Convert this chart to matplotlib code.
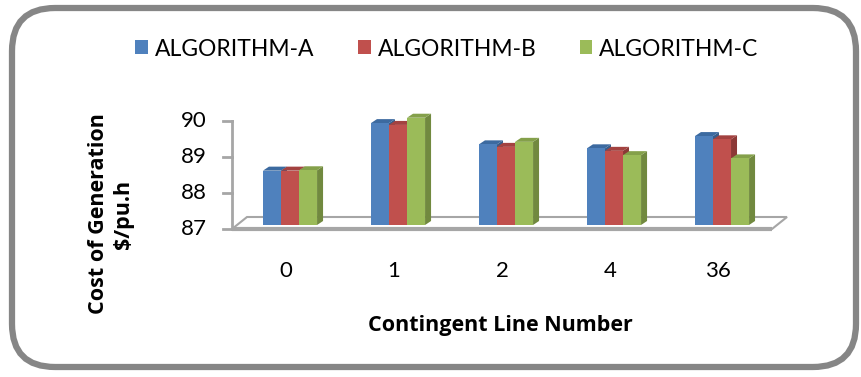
import matplotlib.pyplot as plt
from matplotlib.patches import Polygon, FancyBboxPatch, Patch

plt.rcParams["font.family"] = ["Lato", "DejaVu Sans"]

lines = ["0", "1", "2", "4", "36"]
algo_a = [88.51, 89.83, 89.24, 89.13, 89.47]
algo_b = [88.51, 89.78, 89.17, 89.06, 89.38]
algo_c = [88.52, 89.98, 89.31, 88.94, 88.85]
names = ["ALGORITHM-A", "ALGORITHM-B", "ALGORITHM-C"]

front = ["#4F81BD", "#C0504D", "#9BBB59"]
side = ["#385D8A", "#8C3836", "#71893F"]
top = ["#3C6AA0", "#A34240", "#84A04A"]

fig = plt.figure(figsize=(8.62, 3.77), dpi=100)
W, H = 862, 377

# rounded frame around the chart
frame = FancyBboxPatch((12 / W, 10 / H), 844 / W, 359 / H,
                       boxstyle="round,pad=0,rounding_size=0.05",
                       transform=fig.transFigure, fill=False,
                       edgecolor="#868686", linewidth=4.5, mutation_aspect=W / H)
fig.patches.append(frame)

# plot area: 87 sits on the floor front edge, 36 px per unit
ax = fig.add_axes([232 / W, (H - 229) / H, 540 / W, 120 / H])
ax.set_xlim(-0.5, 4.5)
ax.set_ylim(87, 87 + 120 / 36)
ax.axis("off")

inv = ax.transData.inverted()


def off(x, y, dx, dy):
    px, py = ax.transData.transform((x, y))
    return tuple(inv.transform((px + dx, py + dy)))


grey = "#A6A6A6"
# floor
x0, x1 = -0.5, 4.5
floor = [(x0, 87), (x1, 87), off(x1, 87, 15, 12), off(x0, 87, 15, 12)]
ax.add_patch(Polygon(floor, closed=True, facecolor="white", edgecolor=grey,
                     linewidth=1.5, clip_on=False))
ax.plot([x0, x1], [87, 87], color=grey, linewidth=3, clip_on=False,
        solid_capstyle="butt")

# vertical axis with ticks
ax.plot([x0, x0], [87, 90], color=grey, linewidth=2, clip_on=False)
for t in [87, 88, 89, 90]:
    ax.plot([off(x0, t, -9, 0)[0], x0], [t, t], color=grey, linewidth=2,
            clip_on=False)
    ax.text(off(x0, t, -25, 0)[0], t, str(t), ha="right", va="center",
            fontsize=16)

# 3D bars
width = 0.167
ddx, ddy = 6, 4
for i, vals in enumerate([algo_a, algo_b, algo_c]):
    for k, v in enumerate(vals):
        xl = k + (i - 1.5) * width
        xr = xl + width
        bl = off(xl, 87, 4, 4)
        br = off(xr, 87, 4, 4)
        tl = off(xl, v, 4, 4)
        tr = off(xr, v, 4, 4)
        face = [bl, br, tr, tl]
        sface = [br, off(*br, ddx, ddy), off(*tr, ddx, ddy), tr]
        tface = [tl, tr, off(*tr, ddx, ddy), off(*tl, ddx, ddy)]
        ax.add_patch(Polygon(sface, closed=True, facecolor=side[i],
                             edgecolor="none", clip_on=False, zorder=3))
        ax.add_patch(Polygon(tface, closed=True, facecolor=top[i],
                             edgecolor="none", clip_on=False, zorder=3))
        ax.add_patch(Polygon(face, closed=True, facecolor=front[i],
                             edgecolor="none", clip_on=False, zorder=4))

for k, lab in enumerate(lines):
    ax.text(k, off(0, 87, 0, -42)[1], lab, ha="center", va="center",
            fontsize=16)

label_font = ["Open Sans", "DejaVu Sans"]
fig.text(500 / W, 1 - 325 / H, "Contingent Line Number", ha="center",
         va="center", fontsize=15.5, fontweight="bold", family=label_font)
fig.text(111 / W, 1 - 214 / H, "Cost of Generation\n\\$/pu.h", ha="center",
         va="center", rotation=90, fontsize=15.5, fontweight="bold",
         linespacing=1.2, family=label_font)

handles = [Patch(facecolor=c, edgecolor="none") for c in front]
fig.legend(handles, names, loc="center", bbox_to_anchor=(447 / W, 1 - 49 / H),
           ncol=3, frameon=False, fontsize=16.5, handlelength=0.55,
           handleheight=0.55, handletextpad=0.3, columnspacing=1.9)

fig.savefig("out.png", dpi=100)
